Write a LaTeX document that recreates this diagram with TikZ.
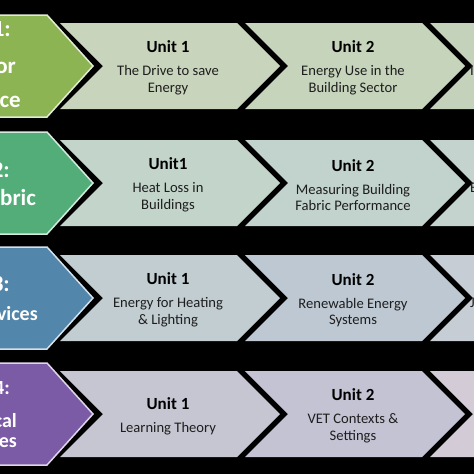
\documentclass[tikz,border=0pt]{standalone}
\usepackage{fontspec}
\setmainfont{Carlito}
\usetikzlibrary{calc,positioning}
\definecolor{modA}{HTML}{8CB453}
\definecolor{modB}{HTML}{52AD78}
\definecolor{modC}{HTML}{5286AA}
\definecolor{modD}{HTML}{7B5BA6}
\definecolor{descgray}{HTML}{1E1E1E}
\newlength{\unitstep}
\setlength{\unitstep}{185pt}
\tikzset{
  unittxt/.style={
    font=\fontsize{14.6}{16.5}\selectfont,
    text=descgray,
    align=center,
    inner sep=0pt
  },
  modtxt/.style={font=\fontsize{23}{26}\selectfont\bfseries, text=white, inner sep=0pt, anchor=base east},
  modsmall/.style={modtxt, font=\fontsize{20}{23}\selectfont\bfseries},
  cuttxt/.style={font=\fontsize{14.6}{16.5}\selectfont, text=descgray, inner sep=0pt, anchor=base west},
}
\newcommand{\UnitHead}[1]{{\fontsize{17}{20}\selectfont\bfseries\color{black}#1}\\[6.5pt]}
% one grey chevron: left x, centre y, fill
\newcommand{\UnitChev}[3]{%
  \fill[#3] (#1,#2-43) -- ++(177,0) -- ++(43,43) -- ++(-43,43) -- ++(-177,0) -- ++(43,-43) -- cycle;
}

\begin{document}
\begin{tikzpicture}[x=1pt,y=-1pt]
  \useasboundingbox (0,0) rectangle (474,474);
  \clip (0,0) rectangle (474,474);
  \fill[black] (0,0) rectangle (474,474);

  % rows: centre y / module colour / three chevron colours
  \foreach \cy/\mc/\ca/\cb/\cc in {
      66/modA/{rgb,255:red,200;green,213;blue,188}/{rgb,255:red,198;green,212;blue,187}/{rgb,255:red,196;green,210;blue,188},
      183/modB/{rgb,255:red,195;green,212;blue,203}/{rgb,255:red,194;green,210;blue,204}/{rgb,255:red,196;green,211;blue,206},
      298/modC/{rgb,255:red,194;green,205;blue,210}/{rgb,255:red,190;green,200;blue,210}/{rgb,255:red,198;green,205;blue,213},
      414/modD/{rgb,255:red,198;green,198;blue,210}/{rgb,255:red,196;green,195;blue,212}/{rgb,255:red,211;green,203;blue,214}} {
    \filldraw[fill=\mc, draw=white!75!\mc, line width=1.5pt]
      (-10,\cy-51) -- (47,\cy-51) -- (93,\cy) -- (47,\cy+51) -- (-10,\cy+51) -- cycle;
    \UnitChev{60}{\cy}{color=\ca}
    \UnitChev{245}{\cy}{color=\cb}
    \UnitChev{430}{\cy}{color=\cc}
  }

  % module labels (cut at the left edge)
  \node[modtxt] (m1a) at (11,36) {1:};
  \node[modtxt] (m1b) at (16,73) {or};
  \node[modtxt] (m1c) at (21,107) {ace};
  \node[modtxt] (m2a) at (10,177) {2:};
  \node[modtxt, anchor=base west] (m2b) at (0,205) {bric};
  \node[modtxt] (m3a) at (10,291) {3:};
  \node[modsmall] (m3b) at (38,320) {vices};
  \node[modsmall] (m4a) at (10,394) {4:};
  \node[modsmall] (m4b) at (17,427) {cal};
  \node[modsmall] (m4c) at (17,447) {es};

  % unit texts
  \node[unittxt] (r1u1) at (168,68) {\UnitHead{Unit 1}The Drive to save\\ Energy};
  \node[unittxt] (r1u2) at ($(r1u1)+(\unitstep,0)$) {\UnitHead{Unit 2}Energy Use in the\\ Building Sector};
  \node[unittxt] (r2u1) at (168,185) {\UnitHead{Unit1}Heat Loss in\\ Buildings};
  \node[unittxt] (r2u2) at ($(r2u1)+(\unitstep,0)$) {\UnitHead{Unit 2}Measuring Building\\ Fabric Performance};
  \node[unittxt] (r3u1) at (168,300) {\UnitHead{Unit 1}Energy for Heating\\ \& Lighting};
  \node[unittxt] (r3u2) at ($(r3u1)+(\unitstep,0)$) {\UnitHead{Unit 2}Renewable Energy\\ Systems};
  \node[unittxt] (r4u1) at (168,416) {\UnitHead{Unit 1}Learning Theory};
  \node[unittxt] (r4u2) at (353,416) {\UnitHead{Unit 2}VET Contexts \&\\ Settings};

  % third column, cut at the right edge
  \node[cuttxt] (r1u3) at (470,75) {I};
  \node[cuttxt] (r2u3) at (470,192) {E};
  \node[cuttxt] (r3u3) at (470,307) {J};
\end{tikzpicture}
\end{document}
